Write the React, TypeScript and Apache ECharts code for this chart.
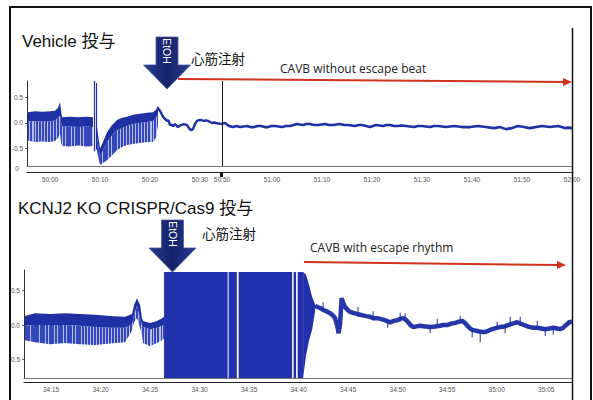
import React, { useEffect, useRef } from 'react';
import * as echarts from 'echarts';

// ---------- axis ticks (seconds after base minute) ----------
const vehLeftTicks = [0, 10, 20, 30];            // 50:00 ...
const vehRightTicks = [50, 60, 70, 80, 90, 100, 110, 120]; // 50:50 ... 52:00
const koTicks = [15, 20, 25, 30, 35, 40, 45, 50, 55, 60, 65]; // 34:15 ... 35:05
const yTicks = [-0.5, 0, 0.5];

// ---------- Vehicle trace (seconds after 50:00, mV) ----------
// dense ECG bands: [t, top, coreBottom, spikeBottom]
const vehBand1 = [
  [-4.4, 0.21, 0.03, -0.34], [-3.0, 0.23, 0.04, -0.37], [-1.6, 0.22, 0.03, -0.36],
  [0.0, 0.23, 0.03, -0.37], [1.0, 0.24, 0.05, -0.35], [1.6, 0.30, 0.10, -0.30],
  [2.0, 0.41, 0.14, -0.20], [2.2, 0.25, 0.02, -0.38], [2.4, 0.11, -0.07, -0.45],
  [4.0, 0.12, -0.07, -0.46], [5.6, 0.11, -0.08, -0.44], [7.2, 0.12, -0.07, -0.46],
  [8.6, 0.11, -0.08, -0.45],
];
const vehBand2 = [
  [9.4, -0.08, -0.28, -0.55], [10.0, -0.50, -0.66, -0.82], [10.6, -0.37, -0.53, -0.78],
  [11.4, -0.18, -0.37, -0.73], [12.4, -0.04, -0.24, -0.63], [13.4, 0.06, -0.14, -0.53],
  [14.4, 0.10, -0.10, -0.47], [15.4, 0.12, -0.06, -0.43], [16.6, 0.16, -0.02, -0.41],
  [18.0, 0.18, 0.0, -0.39], [19.4, 0.20, 0.02, -0.37], [20.6, 0.21, 0.04, -0.37],
  [21.2, 0.26, 0.10, -0.29], [21.6, 0.31, 0.18, -0.04],
];
// isolated spikes: [t, low, high]
const vehSpikes = [[8.9, -0.55, 0.82], [9.3, -0.52, 0.78]];
const vehLineLeft = [
  [21.4, 0.30], [21.6, 0.29], [21.9, 0.25], [22.2, 0.20], [22.6, 0.12], [23.0, 0.08],
  [23.4, 0.04], [23.7, 0.05], [24.0, -0.04], [24.3, -0.03], [24.6, -0.06], [25.0, -0.02],
  [25.3, -0.05], [25.6, -0.08], [26.2, -0.04], [26.8, -0.02], [27.4, -0.04], [27.8, -0.10],
  [28.2, -0.14], [28.6, -0.12], [29.0, -0.02], [29.4, 0.04], [30.0, 0.06], [30.4, 0.05],
  [30.8, 0.04], [31.2, 0.05], [31.6, 0.04], [32.0, 0.02], [32.4, 0.0], [32.8, 0.01],
  [33.2, 0.0], [33.7, -0.01], [34.2, -0.02],
];
const vehLineRight = [
  [49.8, -0.02], [50.6, 0.0], [51.4, -0.06], [52.2, -0.08], [52.9, -0.06], [53.6, -0.08],
  [54.3, -0.07], [55.0, -0.06], [55.7, -0.08], [56.4, -0.08], [57.1, -0.06], [57.8, -0.06],
  [58.5, -0.08], [59.2, -0.08], [59.9, -0.06], [60.6, -0.06], [61.3, -0.07], [62.0, -0.08],
  [62.8, -0.06], [63.6, -0.06], [64.3, -0.04], [65.0, -0.02], [65.6, -0.03], [66.2, -0.04],
  [66.9, -0.02], [67.6, -0.02], [68.4, -0.04], [69.2, -0.04], [69.9, -0.03], [70.6, -0.02],
  [71.4, -0.04], [72.2, -0.04], [72.9, -0.03], [73.6, -0.02], [74.4, -0.04], [75.2, -0.04],
  [75.9, -0.05], [76.6, -0.06], [77.3, -0.04], [78.0, -0.04], [78.8, -0.06], [79.6, -0.08],
  [80.2, -0.06], [80.8, -0.04], [81.5, -0.05], [82.2, -0.06], [82.9, -0.04], [83.6, -0.04],
  [84.4, -0.06], [85.2, -0.06], [86.0, -0.05], [86.8, -0.06], [87.6, -0.07], [88.4, -0.08],
  [89.2, -0.06], [90.0, -0.06], [90.8, -0.07], [91.6, -0.08], [92.4, -0.06], [93.2, -0.06],
  [94.0, -0.07], [94.8, -0.08], [95.6, -0.07], [96.4, -0.06], [97.2, -0.07], [98.0, -0.08],
  [98.8, -0.08], [99.6, -0.08], [100.4, -0.07], [101.2, -0.06], [102.0, -0.07], [102.8, -0.08],
  [103.6, -0.09], [104.4, -0.10], [105.0, -0.09], [105.6, -0.08], [106.2, -0.10], [106.8, -0.12],
  [107.4, -0.11], [108.0, -0.10], [108.6, -0.08], [109.2, -0.06], [109.8, -0.07], [110.4, -0.08],
  [111.0, -0.09], [111.6, -0.10], [112.2, -0.09], [112.8, -0.08], [113.4, -0.07], [114.0, -0.06],
  [114.8, -0.07], [115.6, -0.08], [116.4, -0.07], [117.2, -0.06], [117.9, -0.08], [118.6, -0.10],
  [119.3, -0.09], [120.0, -0.10], [120.2, -0.10],
];
const vehSpliceAt = [50.0];

// ---------- KCNJ2 KO trace (seconds after 34:00, mV) ----------
const koBand = [
  [12.37, 0.13, -0.01, -0.22], [13.38, 0.17, 0.0, -0.25], [14.9, 0.16, 0.0, -0.28],
  [16.41, 0.17, 0.0, -0.26], [17.93, 0.16, -0.01, -0.28], [19.44, 0.15, -0.03, -0.29],
  [20.96, 0.13, -0.04, -0.27], [22.47, 0.12, -0.04, -0.25], [23.18, 0.16, 0.01, -0.08],
  [23.38, 0.29, 0.15, 0.04], [23.68, 0.39, 0.28, 0.10], [23.99, 0.29, 0.10, -0.04],
  [24.19, 0.10, 0.0, -0.15], [24.29, 0.06, -0.03, -0.26], [25.0, 0.03, -0.06, -0.31],
  [25.7, 0.06, -0.04, -0.26], [26.21, 0.10, -0.01, -0.22], [26.41, 0.12, 0.0, -0.20],
];
// saturated fibrillation blocks: [tStart, tEnd, high, low]
const koBlocks = [
  [26.41, 32.83, 0.77, -0.77], [32.93, 33.76, 0.77, -0.77], [33.94, 39.34, 0.77, -0.77],
  [39.49, 39.74, 0.77, -0.77], [39.90, 40.45, 0.77, -0.77],
];
// decaying envelope after block: [t, high, low]
const koFan = [
  [40.45, 0.77, -0.77], [40.75, 0.73, -0.44], [41.06, 0.58, -0.22], [41.36, 0.41, -0.07],
  [41.66, 0.30, 0.20],
];
const koTail = [
  [41.66, 0.28], [41.9, 0.26], [42.17, 0.25], [42.47, 0.22], [42.8, 0.20], [43.18, 0.17],
  [43.45, 0.14], [43.68, 0.10], [43.89, -0.01], [44.04, -0.12], [44.19, 0.03], [44.34, 0.39],
  [44.5, 0.32], [44.69, 0.26], [44.95, 0.22], [45.2, 0.19], [45.7, 0.17], [46.21, 0.15],
  [46.5, 0.14], [46.82, 0.13], [47.2, 0.12], [47.52, 0.10], [47.9, 0.10], [48.23, 0.09],
  [48.7, 0.07], [49.24, 0.04], [49.6, 0.06], [49.95, 0.07], [50.25, 0.09], [50.55, 0.10],
  [50.8, 0.08], [51.06, 0.04], [51.3, 0.0], [51.56, -0.03], [51.9, -0.02], [52.27, -0.01],
  [52.8, -0.02], [53.28, -0.03], [53.8, -0.02], [54.29, -0.01], [54.6, 0.0], [55.0, 0.0],
  [55.4, 0.02], [55.81, 0.03], [56.2, 0.05], [56.51, 0.06], [56.8, 0.03], [57.02, -0.01],
  [57.3, -0.05], [57.52, -0.07], [58.13, -0.09], [58.5, -0.10], [58.84, -0.10], [59.2, -0.08],
  [59.54, -0.06], [60.0, -0.04], [60.35, -0.03], [60.8, -0.02], [61.16, 0.0], [61.6, 0.02],
  [62.07, 0.04], [62.4, 0.02], [62.78, 0.0], [63.1, -0.02], [63.38, -0.03], [63.7, -0.04],
  [64.09, -0.04], [64.5, -0.05], [64.9, -0.06], [65.3, -0.05], [65.71, -0.04], [66.1, -0.05],
  [66.41, -0.06], [66.7, -0.04], [66.92, -0.01], [67.33, 0.04], [67.6, 0.05],
];
const koSpikes = [
  [42.47, 0.20, 0.33], [46.0, 0.12, 0.26], [47.52, 0.08, 0.20], [48.99, -0.04, 0.06],
  [50.25, 0.05, 0.18], [50.75, 0.06, 0.17], [53.28, -0.12, -0.01], [53.99, -0.03, 0.09],
  [56.31, 0.03, 0.13], [57.52, -0.18, -0.05], [58.33, -0.25, -0.08], [60.05, -0.06, 0.05],
  [60.85, -0.12, 0.0], [61.36, -0.01, 0.12], [62.37, 0.01, 0.12], [64.09, -0.05, 0.06],
  [64.9, -0.16, -0.04], [65.71, -0.14, -0.03], [67.22, -0.01, 0.07],
];

// ---------- helpers ----------
const NAVY = '#1f2fa4';
const pad = (n: number) => (n < 10 ? '0' + n : '' + n);
const fmtTime = (base: number) => (v: number) => {
  const total = Math.round(base * 60 + v);
  return `${Math.floor(total / 60)}:${pad(total % 60)}`;
};

function stripes(w: number, dark: string, light: string) {
  const n = Math.max(4, Math.round(w / 1.5));
  const stops: any[] = [];
  for (let j = 0; j < n; j++) {
    const a = j / n;
    const b = (j + 0.6 + 0.1 * ((j * 7) % 3)) / n;
    const c = (j + 1) / n;
    stops.push({ offset: a, color: dark }, { offset: b, color: dark }, { offset: b, color: light }, { offset: c, color: light });
  }
  return new echarts.graphic.LinearGradient(0, 0, 1, 0, stops);
}

function bandSeries(rows: number[][], xi: number, yi: number) {
  return {
    type: 'custom', xAxisIndex: xi, yAxisIndex: yi, clip: true, silent: true, z: 3,
    data: rows, encode: { x: 0, y: [1, 2, 3] },
    renderItem: (params: any, api: any) => {
      if (params.dataIndex !== 0) return null;
      const top = rows.map((r) => api.coord([r[0], r[1]]));
      const mid = rows.map((r) => api.coord([r[0], r[2]]));
      const bot = rows.map((r) => api.coord([r[0], r[3]]));
      const w = top[top.length - 1][0] - top[0][0];
      return {
        type: 'group',
        children: [
          { type: 'polygon', shape: { points: mid.concat(bot.slice().reverse()) }, style: { fill: stripes(w, '#3447bb', '#b4bcec') } },
          { type: 'polygon', shape: { points: top.concat(mid.slice().reverse()) }, style: { fill: NAVY } },
        ],
      };
    },
  };
}

function spikeSeries(rows: number[][], xi: number, yi: number, width: number) {
  return {
    type: 'custom', xAxisIndex: xi, yAxisIndex: yi, clip: true, silent: true, z: 5,
    data: rows, encode: { x: 0, y: [1, 2] },
    renderItem: (params: any, api: any) => {
      const p1 = api.coord([api.value(0), api.value(1)]);
      const p2 = api.coord([api.value(0), api.value(2)]);
      return { type: 'line', shape: { x1: p1[0], y1: p1[1], x2: p2[0], y2: p2[1] }, style: { stroke: NAVY, lineWidth: width } };
    },
  };
}

function blockSeries(rows: number[][], xi: number, yi: number) {
  return {
    type: 'custom', xAxisIndex: xi, yAxisIndex: yi, clip: true, silent: true, z: 3,
    data: rows, encode: { x: [0, 1], y: [2, 3] },
    renderItem: (params: any, api: any) => {
      const p1 = api.coord([api.value(0), api.value(2)]);
      const p2 = api.coord([api.value(1), api.value(3)]);
      return { type: 'rect', shape: { x: p1[0], y: p1[1], width: p2[0] - p1[0], height: p2[1] - p1[1] }, style: { fill: '#2131ad' } };
    },
  };
}

function envelopeSeries(rows: number[][], xi: number, yi: number) {
  return {
    type: 'custom', xAxisIndex: xi, yAxisIndex: yi, clip: true, silent: true, z: 3,
    data: rows, encode: { x: 0, y: [1, 2] },
    renderItem: (params: any, api: any) => {
      if (params.dataIndex !== 0) return null;
      const top = rows.map((r) => api.coord([r[0], r[1]]));
      const bot = rows.map((r) => api.coord([r[0], r[2]]));
      return { type: 'polygon', shape: { points: top.concat(bot.reverse()) }, style: { fill: '#2131ad' } };
    },
  };
}

const tickFont = { fontSize: 6.5, color: '#555', fontFamily: 'Liberation Sans, sans-serif' };

function xAxes(grid: number, min: number, max: number, ticks: number[], base: number, offset: number) {
  return [
    {
      type: 'value', gridIndex: grid, min, max, position: 'bottom', offset,
      axisLine: { show: true, onZero: false, lineStyle: { color: '#222', width: 1.2 } },
      axisTick: { show: false }, splitLine: { show: false },
      axisLabel: { ...tickFont, margin: 4, customValues: ticks, formatter: fmtTime(base) },
    },
    {
      type: 'value', gridIndex: grid, min, max, position: 'bottom', offset: 0,
      axisLine: { show: true, onZero: false, lineStyle: { color: '#777', width: 1 } },
      axisTick: { show: false }, splitLine: { show: false }, axisLabel: { show: false },
    },
  ];
}

function yAxis(grid: number, min: number, max: number, show: boolean) {
  return {
    type: 'value', gridIndex: grid, min, max, show, position: 'left',
    axisLine: { show: true, onZero: false, lineStyle: { color: '#333', width: 1 } },
    axisTick: { show: true, length: 2, lineStyle: { color: '#666' }, customValues: yTicks },
    splitLine: { show: false },
    axisLabel: { ...tickFont, margin: 4, customValues: yTicks, formatter: (v: number) => v.toFixed(1) },
  };
}

function arrowShape(cx: number, top: number, shaftHalf: number, shaftBottom: number, headHalf: number, tip: number) {
  return [
    [cx - shaftHalf, top], [cx + shaftHalf, top], [cx + shaftHalf, shaftBottom], [cx + headHalf, shaftBottom],
    [cx, tip], [cx - headHalf, shaftBottom], [cx - shaftHalf, shaftBottom],
  ];
}

const titleFont = { fontSize: 17, fontFamily: '"Liberation Sans", "Noto Sans CJK JP", sans-serif', fill: '#111' };
const cjkFont = { fontSize: 13.5, fontFamily: '"Noto Sans CJK JP", sans-serif', fill: '#111' };
const noteFont = { fontSize: 12, fontFamily: '"Open Sans", "Noto Sans", sans-serif', fill: '#222' };
const arrowFill = new echarts.graphic.LinearGradient(0, 0, 1, 0, [
  { offset: 0, color: '#2a3c8e' }, { offset: 0.5, color: '#14216a' }, { offset: 1, color: '#2a3c8e' },
]);

function etohArrow(cx: number, top: number, tip: number) {
  const shaftBottom = tip - 24;
  return [
    { type: 'polygon', z: 100, shape: { points: arrowShape(cx, top, 11, shaftBottom, 23.5, tip) }, style: { fill: arrowFill, stroke: '#4a5aa6', lineWidth: 0.8 } },
    { type: 'text', z: 101, x: cx, y: (top + shaftBottom) / 2, rotation: -Math.PI / 2, style: { text: 'EtOH', x: 0, y: 0, align: 'center', verticalAlign: 'middle', fontSize: 10.5, fontFamily: '"Liberation Sans", sans-serif', fill: '#ffffff' } },
  ];
}

function redArrow(x1: number, y1: number, x2: number, y2: number) {
  return [
    { type: 'line', z: 100, shape: { x1, y1, x2: x2 - 6, y2 }, style: { stroke: '#d2321f', lineWidth: 2 } },
    { type: 'polygon', z: 100, shape: { points: [[x2 - 9, y2 - 4], [x2, y2], [x2 - 9, y2 + 4]] }, style: { fill: '#d2321f' } },
  ];
}

export default function App() {
  const ref = useRef<HTMLDivElement>(null);
  useEffect(() => {
    if (!ref.current) return;
    const chart = echarts.init(ref.current, undefined, { renderer: 'svg' });
    const option: any = {
      animation: false,
      backgroundColor: '#ffffff',
      grid: [
        { left: 27, top: 81, width: 194, height: 85 },
        { left: 221, top: 81, width: 352, height: 85 },
        { left: 24, top: 270, width: 548, height: 108 },
      ],
      xAxis: [
        ...xAxes(0, -4.6, 34.2, vehLeftTicks, 50, 6),
        ...xAxes(1, 49.8, 120.2, vehRightTicks, 50, 6),
        ...xAxes(2, 12.27, 67.6, koTicks, 34, 4),
      ],
      yAxis: [
        yAxis(0, -0.84, 0.82, true),
        yAxis(1, -0.84, 0.82, false),
        yAxis(2, -0.77, 0.8, true),
      ],
      series: [
        bandSeries(vehBand1, 0, 0),
        bandSeries(vehBand2, 0, 0),
        spikeSeries(vehSpikes, 0, 0, 1.2),
        {
          type: 'line', xAxisIndex: 0, yAxisIndex: 0, data: vehLineLeft, showSymbol: false, z: 4,
          lineStyle: { color: NAVY, width: 2.4 }, silent: true,
        },
        {
          type: 'line', xAxisIndex: 2, yAxisIndex: 1, data: vehLineRight, showSymbol: false, z: 4,
          lineStyle: { color: NAVY, width: 2.6 }, silent: true,
          markLine: {
            silent: true, symbol: 'none', label: { show: false },
            lineStyle: { color: '#111', width: 1, type: 'solid' },
            data: vehSpliceAt.map((t) => ({ xAxis: t })),
          },
        },
        bandSeries(koBand, 4, 2),
        blockSeries(koBlocks, 4, 2),
        envelopeSeries(koFan, 4, 2),
        {
          type: 'line', xAxisIndex: 4, yAxisIndex: 2, data: koTail, showSymbol: false, z: 4,
          lineStyle: { color: '#2536a8', width: 4.5 }, silent: true,
        },
        spikeSeries(koSpikes, 4, 2, 1),
      ],
      graphic: [
        { type: 'rect', z: 99, shape: { x: 0, y: 0, width: 10, height: 400 }, style: { fill: '#ffffff' } },
        { type: 'rect', z: 100, shape: { x: 10, y: 7, width: 581, height: 400 }, style: { fill: 'none', stroke: '#111', lineWidth: 2 } },
        { type: 'line', z: 100, shape: { x1: 572.5, y1: 28, x2: 572.5, y2: 400 }, style: { stroke: '#111', lineWidth: 1.5 } },
        { type: 'rect', z: 100, shape: { x: 220, y: 172, width: 3, height: 5 }, style: { fill: '#111' } },
        { type: 'text', z: 100, style: { text: '0', x: 17, y: 168, align: 'center', verticalAlign: 'middle', ...tickFont, fill: '#555' } },
        { type: 'text', z: 100, style: { text: 'Vehicle 投与', x: 22, y: 41, verticalAlign: 'middle', ...titleFont } },
        { type: 'text', z: 100, style: { text: 'KCNJ2 KO CRISPR/Cas9 投与', x: 18, y: 208, verticalAlign: 'middle', ...titleFont } },
        ...etohArrow(167, 37, 89),
        ...etohArrow(172.5, 220, 272),
        { type: 'text', z: 100, style: { text: '心筋注射', x: 191, y: 58, verticalAlign: 'middle', ...cjkFont } },
        { type: 'text', z: 100, style: { text: '心筋注射', x: 202, y: 233, verticalAlign: 'middle', ...cjkFont } },
        { type: 'text', z: 100, style: { text: 'CAVB without escape beat', x: 280, y: 68, verticalAlign: 'middle', ...noteFont } },
        { type: 'text', z: 100, style: { text: 'CAVB with escape rhythm', x: 310, y: 247, verticalAlign: 'middle', ...noteFont } },
        ...redArrow(178, 79, 572, 82),
        ...redArrow(304, 262, 566, 265),
      ],
    };
    chart.setOption(option);
    return () => chart.dispose();
  }, []);
  return <div ref={ref} style={{ position: 'fixed', left: 0, top: 0, width: 593, height: 400, background: '#fff' }} />;
}
